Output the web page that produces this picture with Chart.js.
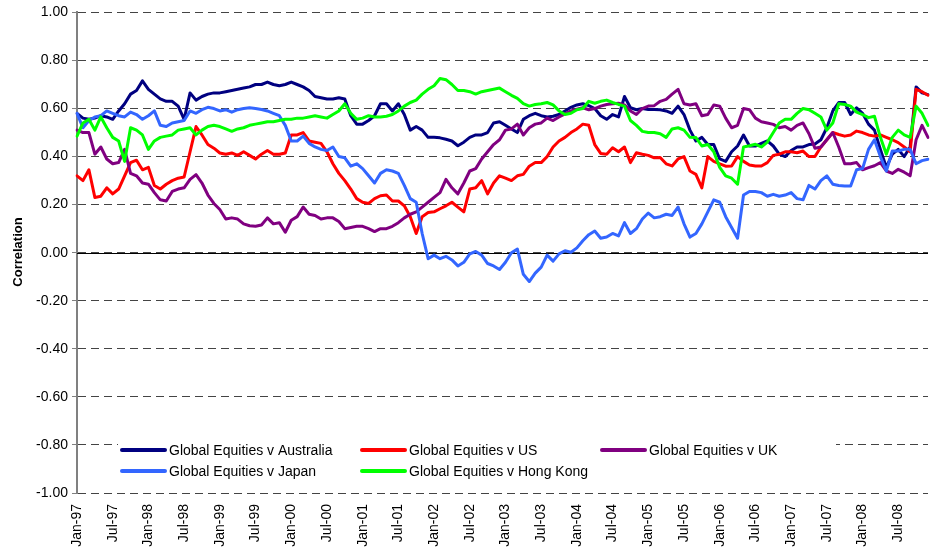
<!DOCTYPE html>
<html>
<head>
<meta charset="utf-8">
<title>Global Equities correlation</title>
<script src="https://cdn.jsdelivr.net/npm/chart.js@4.4.1/dist/chart.umd.min.js"></script>
<style>
  html, body { margin: 0; padding: 0; background: #fff; }
  #wrap { width: 936px; height: 552px; }
</style>
</head>
<body>
<div id="wrap"><canvas id="chart" width="936" height="552"></canvas></div>
<script>
// Monthly categories Jan-97 .. Dec-08, a label shown every 6 months
const MONTHS = ['Jan', 'Feb', 'Mar', 'Apr', 'May', 'Jun', 'Jul', 'Aug', 'Sep', 'Oct', 'Nov', 'Dec'];
const YEARS = ['97', '98', '99', '00', '01', '02', '03', '04', '05', '06', '07', '08'];
const labels = [];
YEARS.forEach(y => MONTHS.forEach(m => labels.push(m + '-' + y)));

const australia = [
  0.58, 0.56, 0.555, 0.56, 0.57, 0.565, 0.555, 0.59, 0.62, 0.66, 0.675, 0.715,
  0.68, 0.66, 0.64, 0.63, 0.63, 0.61, 0.555, 0.665, 0.635, 0.65, 0.66, 0.665,
  0.665, 0.67, 0.675, 0.68, 0.685, 0.69, 0.70, 0.70, 0.71, 0.70, 0.695, 0.70,
  0.71, 0.70, 0.69, 0.675, 0.65, 0.645, 0.64, 0.64, 0.645, 0.64, 0.57, 0.535,
  0.535, 0.55, 0.57, 0.62, 0.62, 0.59, 0.62, 0.575, 0.51, 0.525, 0.51, 0.48,
  0.48, 0.478, 0.472, 0.465, 0.445, 0.46, 0.48, 0.49, 0.49, 0.50, 0.54, 0.545,
  0.53, 0.515, 0.50, 0.555, 0.57, 0.58, 0.57, 0.565, 0.568, 0.575, 0.59, 0.605,
  0.615, 0.62, 0.612, 0.60, 0.57, 0.555, 0.575, 0.565, 0.65, 0.603, 0.595, 0.60,
  0.596, 0.596, 0.595, 0.59, 0.58, 0.61, 0.575, 0.51, 0.465, 0.48, 0.45, 0.45,
  0.39, 0.38, 0.42, 0.444, 0.49, 0.444, 0.444, 0.455, 0.465, 0.444, 0.41, 0.40,
  0.425, 0.44, 0.44, 0.45, 0.452, 0.47, 0.52, 0.59, 0.625, 0.625, 0.575, 0.603,
  0.58, 0.535, 0.51, 0.43, 0.355, 0.41, 0.43, 0.40, 0.44, 0.69, 0.665, 0.658
];

const us = [
  0.32, 0.30, 0.345, 0.23, 0.235, 0.27, 0.245, 0.265, 0.32, 0.375, 0.385, 0.345,
  0.355, 0.28, 0.265, 0.285, 0.30, 0.31, 0.315, 0.42, 0.525, 0.49, 0.45, 0.435,
  0.415, 0.41, 0.415, 0.405, 0.42, 0.405, 0.39, 0.41, 0.425, 0.41, 0.41, 0.415,
  0.49, 0.49, 0.50, 0.465, 0.46, 0.455, 0.42, 0.37, 0.33, 0.30, 0.265, 0.225,
  0.21, 0.205, 0.225, 0.237, 0.24, 0.215, 0.215, 0.195, 0.15, 0.08, 0.15, 0.167,
  0.17, 0.183, 0.195, 0.21, 0.19, 0.17, 0.265, 0.27, 0.30, 0.245, 0.29, 0.32,
  0.31, 0.30, 0.32, 0.326, 0.36, 0.375, 0.375, 0.40, 0.44, 0.465, 0.48, 0.50,
  0.515, 0.535, 0.53, 0.45, 0.413, 0.41, 0.437, 0.42, 0.44, 0.375, 0.416, 0.41,
  0.405, 0.395, 0.396, 0.37, 0.361, 0.39, 0.40, 0.34, 0.326, 0.27, 0.40, 0.38,
  0.37, 0.36, 0.361, 0.40, 0.38, 0.365, 0.361, 0.361, 0.375, 0.405, 0.41, 0.42,
  0.42, 0.416, 0.423, 0.40, 0.40, 0.44, 0.47, 0.50, 0.492, 0.485, 0.49, 0.506,
  0.50, 0.49, 0.485, 0.49, 0.48, 0.47, 0.458, 0.44, 0.42, 0.68, 0.67, 0.655
];

const uk = [
  0.51, 0.50, 0.50, 0.41, 0.44, 0.39, 0.37, 0.375, 0.43, 0.33, 0.32, 0.29,
  0.285, 0.25, 0.22, 0.215, 0.255, 0.265, 0.27, 0.305, 0.325, 0.29, 0.24, 0.205,
  0.18, 0.14, 0.145, 0.14, 0.12, 0.112, 0.11, 0.115, 0.145, 0.12, 0.125, 0.085,
  0.135, 0.15, 0.19, 0.16, 0.155, 0.14, 0.145, 0.145, 0.13, 0.10, 0.105, 0.11,
  0.11, 0.10, 0.088, 0.10, 0.10, 0.11, 0.125, 0.145, 0.16, 0.17, 0.19, 0.21,
  0.23, 0.25, 0.305, 0.27, 0.245, 0.29, 0.34, 0.35, 0.39, 0.42, 0.45, 0.47,
  0.51, 0.515, 0.535, 0.49, 0.52, 0.535, 0.54, 0.56, 0.55, 0.565, 0.578, 0.59,
  0.597, 0.603, 0.595, 0.60, 0.61, 0.617, 0.62, 0.622, 0.615, 0.59, 0.575, 0.60,
  0.61, 0.612, 0.63, 0.638, 0.66, 0.68, 0.62, 0.615, 0.62, 0.57, 0.575, 0.615,
  0.61, 0.56, 0.52, 0.53, 0.60, 0.595, 0.56, 0.545, 0.54, 0.534, 0.52, 0.525,
  0.51, 0.53, 0.54, 0.495, 0.435, 0.44, 0.47, 0.50, 0.44, 0.37, 0.37, 0.375,
  0.345, 0.354, 0.362, 0.375, 0.34, 0.33, 0.347, 0.335, 0.32, 0.47, 0.53, 0.48
];

const japan = [
  0.58, 0.52, 0.55, 0.565, 0.57, 0.59, 0.58, 0.57, 0.565, 0.585, 0.575, 0.555,
  0.57, 0.59, 0.53, 0.525, 0.54, 0.545, 0.55, 0.59, 0.58, 0.595, 0.605, 0.60,
  0.59, 0.595, 0.585, 0.595, 0.60, 0.603, 0.60, 0.596, 0.59, 0.58, 0.57, 0.53,
  0.465, 0.465, 0.485, 0.455, 0.44, 0.43, 0.425, 0.44, 0.40, 0.395, 0.36, 0.37,
  0.35, 0.32, 0.29, 0.33, 0.345, 0.34, 0.33, 0.28, 0.225, 0.21, 0.08, -0.025,
  -0.01, -0.025, -0.015, -0.03, -0.055, -0.04, -0.005, 0.005, -0.01, -0.045, -0.055, -0.07,
  -0.04, 0.0, 0.015, -0.09, -0.12, -0.085, -0.06, -0.01, -0.035, -0.005, 0.008, 0.002,
  0.02, 0.05, 0.075, 0.09, 0.06, 0.065, 0.08, 0.07, 0.125, 0.08, 0.10, 0.14,
  0.165, 0.145, 0.15, 0.16, 0.155, 0.19, 0.12, 0.065, 0.08, 0.12, 0.17, 0.22,
  0.21, 0.15, 0.105, 0.06, 0.24, 0.255, 0.255, 0.25, 0.235, 0.243, 0.235, 0.24,
  0.25, 0.225, 0.22, 0.28, 0.265, 0.30, 0.32, 0.285, 0.28, 0.278, 0.278, 0.345,
  0.35, 0.43, 0.47, 0.40, 0.34, 0.423, 0.423, 0.43, 0.43, 0.37, 0.383, 0.389
];

const hongKong = [
  0.485, 0.54, 0.555, 0.51, 0.565, 0.52, 0.48, 0.465, 0.38, 0.52, 0.51, 0.49,
  0.43, 0.465, 0.48, 0.485, 0.49, 0.51, 0.515, 0.52, 0.49, 0.51, 0.525, 0.53,
  0.525, 0.515, 0.505, 0.515, 0.52, 0.53, 0.535, 0.54, 0.545, 0.545, 0.55, 0.555,
  0.555, 0.56, 0.56, 0.565, 0.57, 0.565, 0.56, 0.575, 0.59, 0.62, 0.58, 0.555,
  0.56, 0.57, 0.565, 0.565, 0.568, 0.575, 0.59, 0.61, 0.625, 0.635, 0.66, 0.68,
  0.695, 0.725, 0.72, 0.70, 0.675, 0.675, 0.67, 0.66, 0.67, 0.675, 0.68, 0.685,
  0.67, 0.655, 0.642, 0.62, 0.61, 0.617, 0.62, 0.625, 0.615, 0.59, 0.575, 0.58,
  0.595, 0.60, 0.63, 0.622, 0.63, 0.635, 0.625, 0.617, 0.61, 0.55, 0.53, 0.505,
  0.50, 0.50, 0.495, 0.48, 0.515, 0.52, 0.51, 0.48, 0.479, 0.444, 0.45, 0.42,
  0.355, 0.32, 0.31, 0.285, 0.44, 0.445, 0.451, 0.44, 0.46, 0.50, 0.54, 0.555,
  0.555, 0.58, 0.60, 0.595, 0.58, 0.565, 0.51, 0.54, 0.62, 0.617, 0.61, 0.585,
  0.575, 0.562, 0.568, 0.48, 0.41, 0.48, 0.51, 0.49, 0.48, 0.61, 0.58, 0.53
];

const seriesNames = [
  'Global Equities v Australia',
  'Global Equities v US',
  'Global Equities v UK',
  'Global Equities v Japan',
  'Global Equities v Hong Kong'
];
const seriesColors = ['#000080', '#FF0000', '#800080', '#3366FF', '#00FF00'];
const seriesData = [australia, us, uk, japan, hongKong];

const FONT = '"Liberation Sans", Arial, sans-serif';

// legend drawn inside the plot, zero line, and the rotated axis title
const overlayPlugin = {
  id: 'overlay',
  beforeDatasetsDraw(chart) {
    const { ctx, chartArea, scales } = chart;
    const y0 = Math.round(scales.y.getPixelForValue(0)) + 0.5;
    ctx.save();
    ctx.strokeStyle = '#000';
    ctx.lineWidth = 1;
    ctx.beginPath();
    ctx.moveTo(chartArea.left, y0);
    ctx.lineTo(chartArea.right, y0);
    ctx.stroke();
    ctx.restore();
  },
  afterDraw(chart) {
    const { ctx } = chart;
    ctx.save();

    // legend box (covers the -0.80 gridline)
    ctx.fillStyle = '#fff';
    ctx.fillRect(118, 437, 718, 44);

    const colX = [120, 360, 600];
    const rowY = [450, 471];
    ctx.font = '14px ' + FONT;
    ctx.textBaseline = 'middle';
    ctx.textAlign = 'left';
    ctx.lineCap = 'round';
    seriesNames.forEach((name, i) => {
      const x = colX[i % 3];
      const y = rowY[Math.floor(i / 3)];
      ctx.strokeStyle = seriesColors[i];
      ctx.lineWidth = 4;
      ctx.beginPath();
      ctx.moveTo(x + 2, y);
      ctx.lineTo(x + 45, y);
      ctx.stroke();
      ctx.fillStyle = '#000';
      ctx.fillText(name, x + 49, y + 1);
    });

    // y axis title
    ctx.translate(18, 252);
    ctx.rotate(-Math.PI / 2);
    ctx.font = 'bold 13px ' + FONT;
    ctx.textAlign = 'center';
    ctx.fillStyle = '#000';
    ctx.fillText('Correlation', 0, 0);
    ctx.restore();
  }
};

new Chart(document.getElementById('chart'), {
  type: 'line',
  data: {
    labels: labels,
    datasets: seriesData.map((d, i) => ({
      label: seriesNames[i],
      data: d,
      borderColor: seriesColors[i],
      backgroundColor: seriesColors[i],
      borderWidth: 3,
      pointRadius: 0,
      tension: 0,
      borderJoinStyle: 'round',
      borderCapStyle: 'round',
      order: 5 - i
    }))
  },
  options: {
    responsive: false,
    devicePixelRatio: 1,
    animation: false,
    layout: { padding: { top: 11, right: 8, left: 0, bottom: 0 } },
    plugins: {
      legend: { display: false },
      tooltip: { enabled: false }
    },
    scales: {
      x: {
        type: 'category',
        offset: false,
        grid: { display: false, drawTicks: false },
        border: { display: false },
        ticks: {
          autoSkip: false,
          maxRotation: 90,
          minRotation: 90,
          padding: 11,
          color: '#000',
          font: { family: FONT, size: 14 },
          callback: function (val, i) {
            return i % 6 === 0 ? labels[i] : null;
          }
        },
        afterFit: function (scale) { scale.height = 59; }
      },
      y: {
        min: -1,
        max: 1,
        grid: {
          color: '#444',
          lineWidth: 1,
          drawTicks: true,
          tickLength: 5,
          tickColor: '#808080',
          tickWidth: 1
        },
        border: { display: true, color: '#808080', width: 2, dash: [8, 5] },
        ticks: {
          stepSize: 0.2,
          padding: 4,
          color: '#000',
          font: { family: FONT, size: 14 },
          callback: function (v) {
            return (Math.abs(v) < 1e-9 ? 0 : v).toFixed(2);
          }
        },
        afterFit: function (scale) { scale.width = 77; }
      }
    }
  },
  plugins: [overlayPlugin]
});
</script>
</body>
</html>
